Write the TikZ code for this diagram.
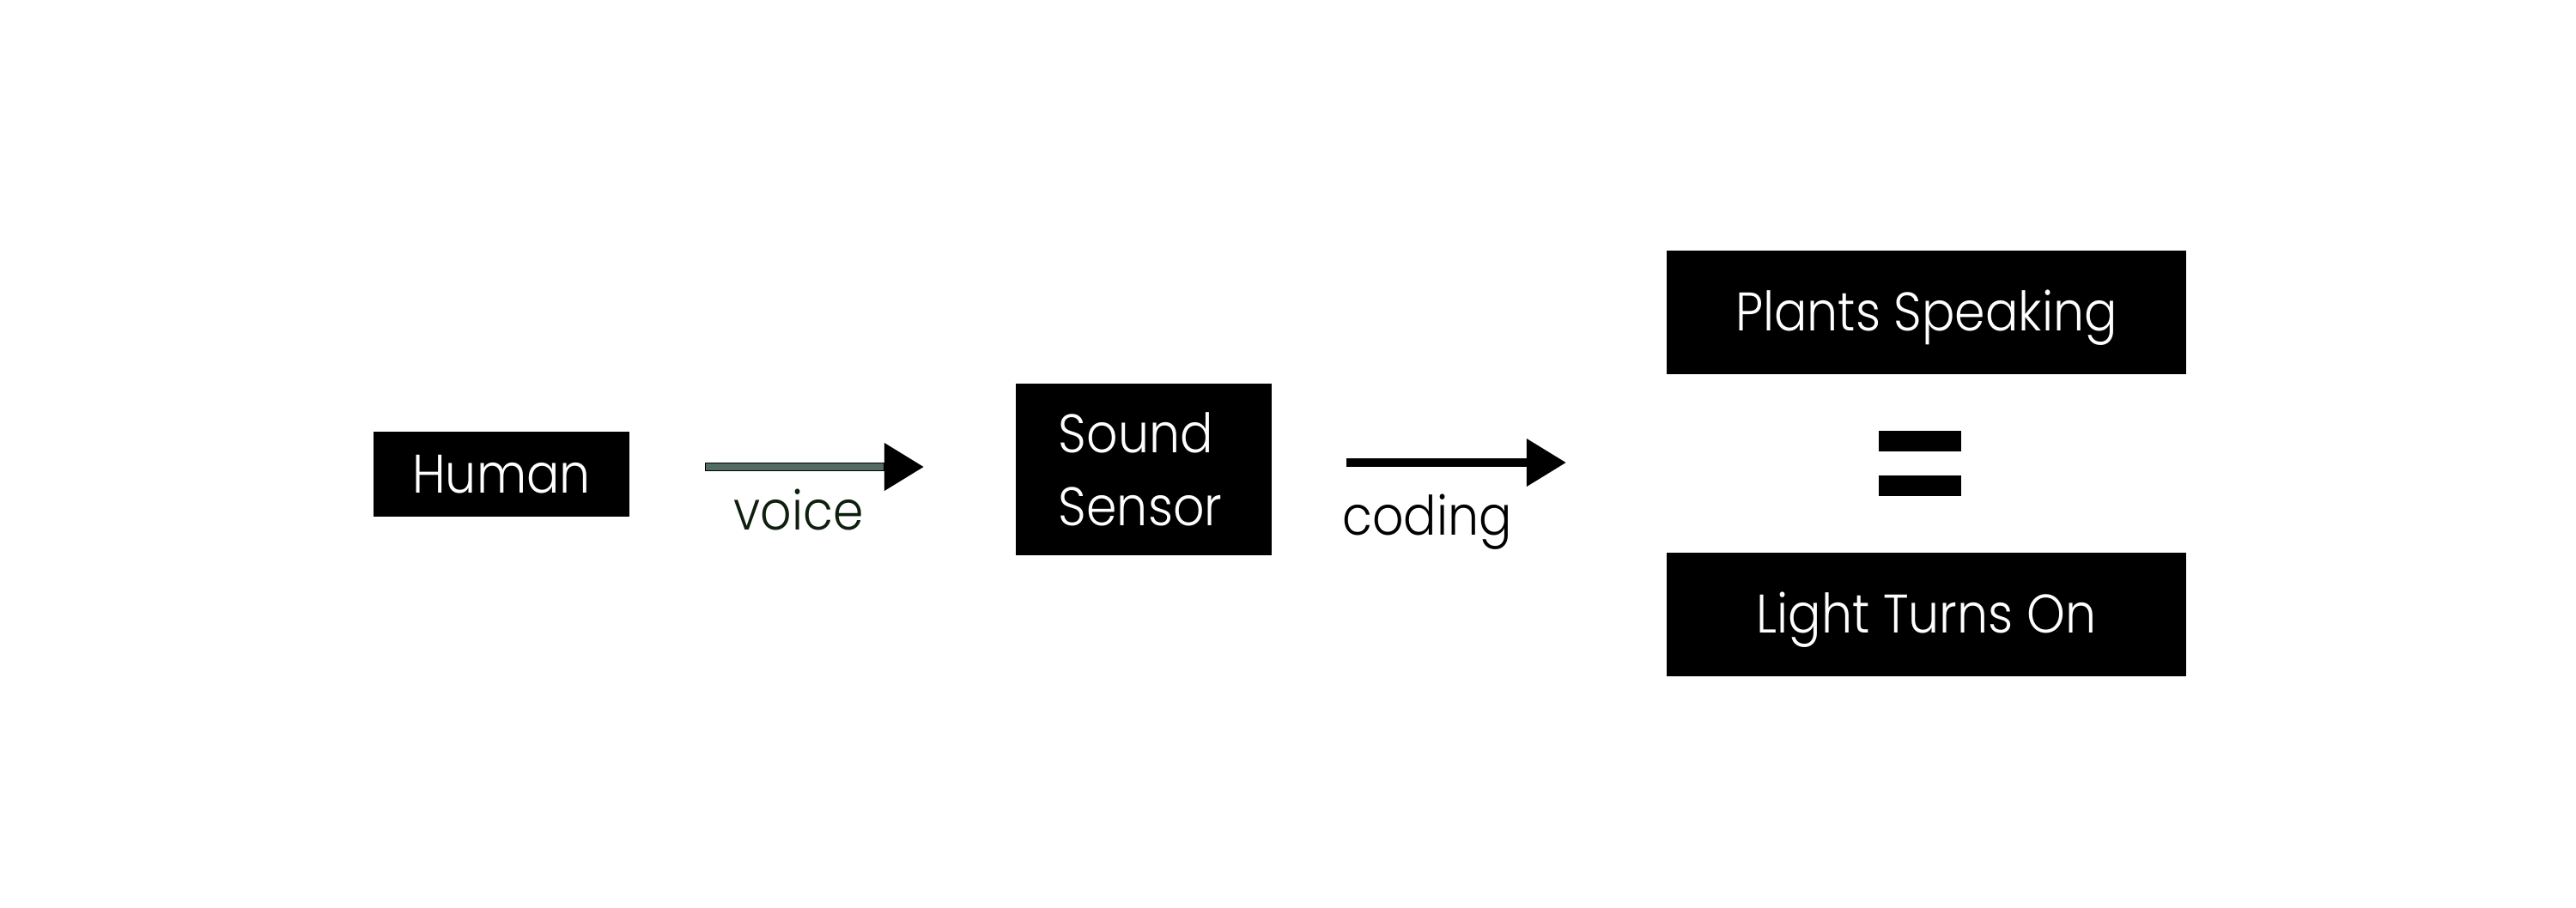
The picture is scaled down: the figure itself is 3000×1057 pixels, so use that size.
\documentclass[tikz,border=0pt]{standalone}
\usepackage{fontspec}
\setmainfont{Poppins}[UprightFont=* Light, FakeStretch=0.9]
\usetikzlibrary{arrows.meta}
\definecolor{shaftcol}{HTML}{526C63}
\definecolor{voicecol}{HTML}{0E1F0E}
\begin{document}
\begin{tikzpicture}[x=0.01cm,y=-0.01cm,
  box/.style={fill=black, text=white, inner sep=0pt, font=\fontsize{18}{24}\selectfont},
  single/.style={text height=12.5pt, text depth=0pt},
  lbl/.style={font=\fontsize{18}{24}\selectfont, anchor=base, inner sep=0pt},
  bar/.style={fill=black, inner sep=0pt, minimum width=0.96cm, minimum height=0.24cm},
  arr/.style={line width=0.1cm, -{Triangle[length=0.46cm,width=0.53cm]}}]
\useasboundingbox[fill=white] (0,0) rectangle (3000,1057);
\node[box, single, minimum width=2.98cm, minimum height=0.99cm] (human) at (584,552.5) {Human};
\node[box, minimum height=2.00cm, inner xsep=0.5cm, text width=1.98cm, align=left] (sound) at (1332,547) {Sound\\Sensor};
\node[box, single, minimum width=6.05cm, minimum height=1.44cm] (plants) at (2243.5,364) {Plants Speaking};
\node[box, single, minimum width=6.05cm, minimum height=1.44cm] (light) at (2243.5,716) {Light Turns On};
\node[bar] (eqa) at (2236,514) {};
\node[bar] (eqb) at (2236,565.5) {};
\coordinate (v1) at (821,544);
\coordinate (v2) at (1076,544);
\coordinate (c1) at (1568,539);
\coordinate (c2) at (1824,539);
\draw[arr] (v1) -- (v2);
\draw[line width=0.08cm, shaftcol, shorten <=0.01cm, shorten >=0.47cm] (v1) -- (v2);
\draw[arr] (c1) -- (c2);
\node[lbl, text=voicecol] (voice) at (930,617) {voice};
\node[lbl] (coding) at (1662,623) {coding};
\end{tikzpicture}
\end{document}
